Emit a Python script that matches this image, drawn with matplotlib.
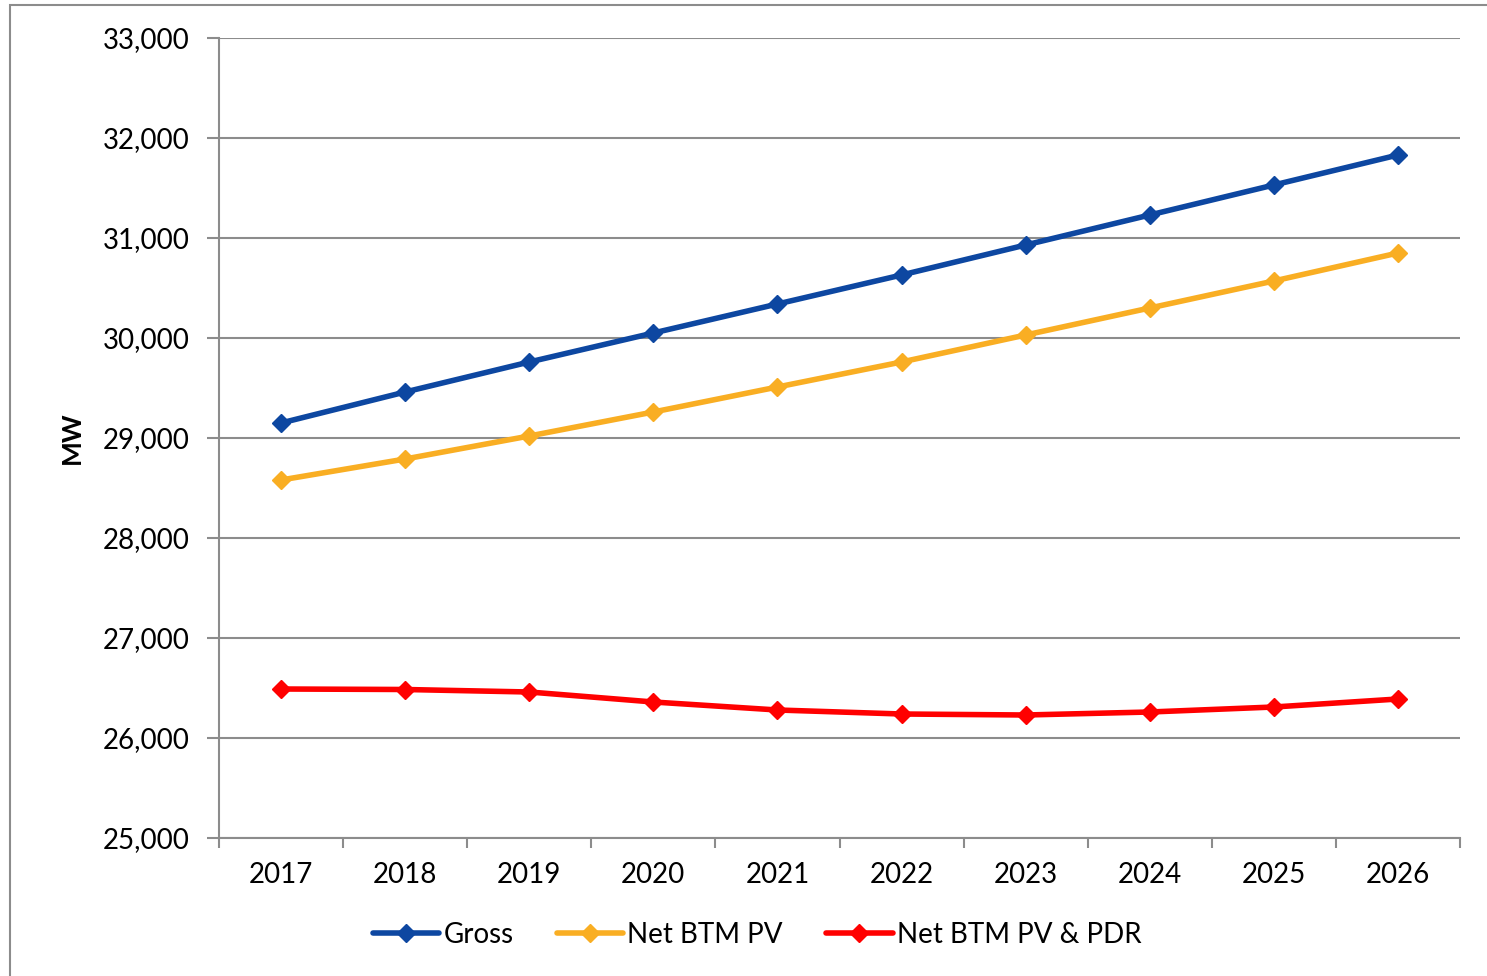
import matplotlib
matplotlib.use("Agg")
import matplotlib.pyplot as plt
from matplotlib.ticker import FuncFormatter, FixedLocator
from matplotlib.patches import Rectangle

years = ["2017", "2018", "2019", "2020", "2021", "2022", "2023", "2024", "2025", "2026"]
gross = [29150, 29460, 29760, 30050, 30340, 30630, 30930, 31230, 31530, 31830]
net_btm_pv = [28580, 28790, 29020, 29260, 29510, 29760, 30030, 30300, 30570, 30850]
net_btm_pv_pdr = [26490, 26485, 26460, 26360, 26280, 26240, 26230, 26260, 26310, 26390]
series_names = ["Gross", "Net BTM PV", "Net BTM PV & PDR"]
colors = ["#0D47A1", "#F9AE23", "#FF0000"]

plt.rcParams['font.family'] = ['Lato', 'DejaVu Sans']

fig = plt.figure(figsize=(14.87, 9.76), dpi=100)
ax = fig.add_axes([219/1487, 1-838/976, (1460-219)/1487, 800/976])

x = list(range(len(years)))
for vals, name, c in zip([gross, net_btm_pv, net_btm_pv_pdr], series_names, colors):
    ax.plot(x, vals, color=c, lw=4.0, marker='D', markersize=9, label=name, solid_capstyle='round')

ax.set_xlim(-0.5, len(years) - 0.5)
ax.set_ylim(25000, 33000)
ax.set_yticks(range(25000, 33001, 1000))
ax.yaxis.set_major_formatter(FuncFormatter(lambda v, p: f"{int(v):,}"))
ax.set_xticks(x)
ax.set_xticklabels(years)
ax.xaxis.set_minor_locator(FixedLocator([i - 0.5 for i in range(len(years) + 1)]))
ax.tick_params(axis='x', which='major', length=0, labelsize=20, pad=17)
ax.tick_params(axis='x', which='minor', length=7, width=1.5, color='#8C8C8C', direction='out')
ax.tick_params(axis='y', length=9, width=1.5, color='#8C8C8C', labelsize=20, pad=12)
ax.grid(axis='y', color='#8C8C8C', lw=1.5)
ax.set_axisbelow(True)
for s in ['top', 'right']:
    ax.spines[s].set_visible(False)
for s in ['left', 'bottom']:
    ax.spines[s].set_color('#8C8C8C')
    ax.spines[s].set_linewidth(1.5)
ax.set_ylabel("MW", fontsize=19, fontweight='bold', labelpad=14)

fig.legend(loc='center', bbox_to_anchor=(757/1487, 1-935/976), ncol=3, frameon=False,
           fontsize=20, handlelength=2.4, handletextpad=0.15, columnspacing=1.55)

fig.patches.append(Rectangle((10/1487, -0.1), 1.2, (1-5/976) + 0.1, transform=fig.transFigure,
                             fill=False, edgecolor='#8C8C8C', lw=1.5))

fig.savefig("out.png", dpi=100)
